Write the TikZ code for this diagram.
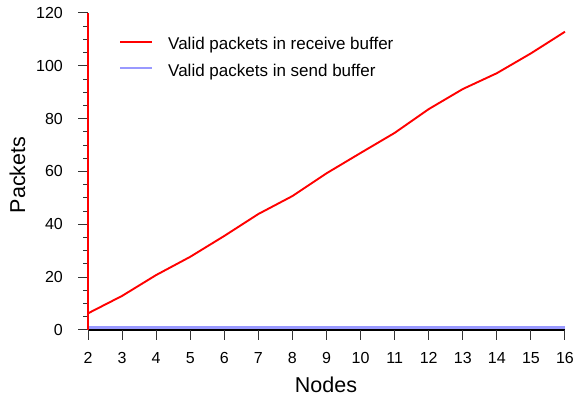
\documentclass[tikz,border=0pt]{standalone}
\usepackage{fontspec}
\setmainfont{Liberation Sans}
\begin{document}
\begin{tikzpicture}[x=1pt,y=1pt,
  ticklabel/.style={font=\fontsize{16}{16}\selectfont, inner sep=0pt},
  axistitle/.style={font=\fontsize{21.5}{21.5}\selectfont, inner sep=0pt},
  legendtext/.style={font=\fontsize{17}{17}\selectfont, anchor=base west, inner sep=0pt},
  recvline/.style={draw=red, line width=1.9pt, line join=round},
  sendline/.style={draw={rgb,255:red,153;green,153;blue,255}, line width=2.6pt},
  tickline/.style={draw=black!80, line width=1pt}]
\useasboundingbox (0,0) rectangle (574,402);
% plot area: one x unit per node count, one y unit per packet
\begin{scope}[shift={(88pt,72pt)}, x=34.07pt, y=2.642pt]
  % send buffer series
  \draw[sendline] (0,0.9) -- (14,0.9);
  % receive buffer series
  \draw[recvline] plot coordinates {(0,6.3) (1,12.9) (2,20.8) (3,27.7) (4,35.6)
    (5,43.9) (6,50.7) (7,59.3) (8,67.0) (9,74.6) (10,83.6) (11,91.2)
    (12,97.2) (13,104.7) (14,112.9)};
  % x axis with ticks and labels
  \draw[black, line width=1.1pt] (0,0) -- (14,0);
  \foreach \n in {2,...,16} {
    \draw[tickline] (\n-2,0) -- ++(0,-10pt);
    \node[ticklabel, anchor=base] (xl\n) at ([yshift=-34pt]\n-2,0) {\n};
  }
  % y axis with major and minor ticks
  \foreach \v in {5,10,...,115}
    \draw[tickline] (0,\v) -- ++(-5pt,0);
  \foreach \v in {0,20,...,120} {
    \draw[tickline] (0,\v) -- ++(-10pt,0);
    \node[ticklabel, anchor=east] (yl\v) at ([xshift=-25pt]0,\v) {\v};
  }
  \draw[red, line width=1.2pt] (0,0) -- (0,120);
\end{scope}
% axis titles
\node[axistitle, anchor=base] (xtitle) at (326,9) {Nodes};
\node[axistitle, anchor=base, rotate=90] (ytitle) at (25,227) {Packets};
% legend
\coordinate (ra) at (120,360);
\coordinate (rb) at (152,360);
\coordinate (sa) at (120,334);
\coordinate (sb) at (152,334);
\draw[recvline] (ra) -- (rb);
\draw[sendline] (sa) -- (sb);
\node[legendtext] (lrecv) at (168,352) {Valid packets in receive buffer};
\node[legendtext] (lsend) at (168,325) {Valid packets in send buffer};
\end{tikzpicture}
\end{document}
